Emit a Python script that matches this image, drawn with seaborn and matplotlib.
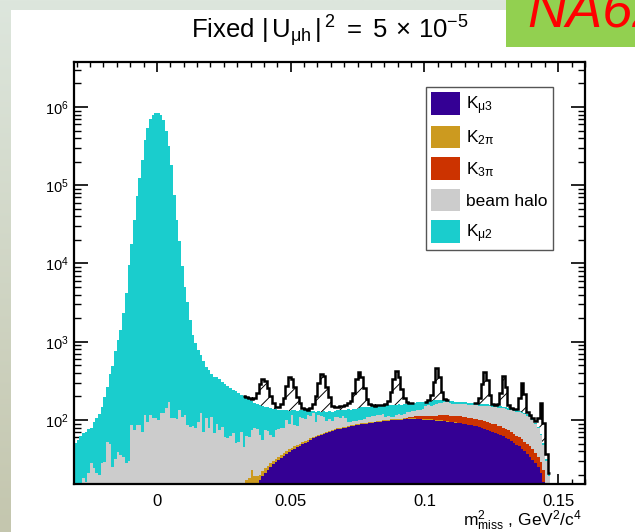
import numpy as np
import pandas as pd
import matplotlib
matplotlib.use("Agg")
import matplotlib.pyplot as plt
import seaborn as sns
from matplotlib.patches import Patch, Rectangle
from matplotlib.ticker import MultipleLocator, LogLocator, NullFormatter

# ---------------- data ----------------
bin_lo, bin_hi, n_bins = -0.031, 0.160, 191          # m2_miss bins, width 0.001 GeV^2/c^4

kmu2 = [41, 44, 48, 50, 54, 55, 52, 71, 85, 100, 120, 170, 210, 340, 470, 720,
        1010, 1360, 2270, 4170, 9470, 17900, 35900, 71900, 124900, 209900, 379900,
        540000, 700000, 800000, 850000, 850000, 800000, 680000, 500000, 320000, 180000,
        75000, 36000, 19000, 9200, 4900, 3110, 1820, 1120, 870, 700, 560, 490, 375, 350,
        280, 287, 270,
        255, 224, 230, 211, 195, 177, 181, 170, 139, 155, 130, 124, 101, 86, 84, 91, 95,
        73, 73, 78, 80, 64, 60, 55, 54, 35, 42, 20, 48, 47, 25, 27, 30, 14, 18, 8, 33, 14,
        15, 23, 28, 27, 32, 20, 24, 30,
        22, 27, 42, 42, 43, 43, 43, 46, 46, 36, 40, 38, 38, 35, 39, 34, 47, 42, 46, 45, 41,
        40, 41, 41, 35, 36, 36, 34, 32, 36, 34, 21, 20, 23, 21, 18, 14, 17, 10, 8, 9, 11,
        12, 9, 10,
        11, 8, 9, 9, 8, 8, 8, 8, 8, 7, 7, 7, 7, 7, 7, 6, 6, 6, 6, 5, 5, 5, 4, 4, 4, 4, 3,
        3, 3, 3, 3, 2, 2, 0, 0, 0, 0, 0, 0, 0, 0, 0, 0, 0, 0, 0]

beam_halo = [10, 12, 14, 18, 16, 21, 28, 24, 21, 20, 28, 29, 52, 50, 25, 32,
             39, 36, 34, 28, 30, 86, 74, 86, 86, 71, 116, 95, 116, 106, 106, 100, 123, 123,
             142, 170, 106, 106, 104, 134, 110, 115, 86, 81, 84, 80, 95, 123, 71, 106, 79,
             110, 68, 88,
             75, 81, 60, 59, 62, 68, 51, 52, 71, 45, 46, 43, 51, 61, 58, 44, 33, 50, 46, 36,
             30, 42, 42, 43, 41, 60, 48, 72, 40, 36, 60, 54, 50, 60, 55, 62, 32, 51, 45, 39,
             27, 29, 21, 33, 30, 26,
             31, 23, 11, 8, 10, 8, 10, 9, 10, 18, 15, 18, 16, 20, 17, 20, 9, 12, 9, 8, 14, 15,
             12, 13, 20, 16, 19, 21, 25, 22, 26, 37, 42, 39, 43, 48, 50, 48, 53, 55, 52, 48,
             47, 49, 50,
             48, 51, 50, 50, 53, 51, 52, 53, 53, 56, 57, 57, 58, 59, 60, 61, 63, 62, 63, 64,
             65, 64, 65, 65, 64, 62, 58, 50, 44, 35, 25, 16, 19,
             0, 0, 0, 0, 0, 0, 0, 0, 0, 0, 0, 0, 0]

kmu3_first_bin = 66
kmu3 = [4, 9, 14, 17, 19, 21, 23, 25, 27, 29, 31, 33, 35, 37, 39, 41, 43, 45, 47, 49, 51,
        53, 56, 58, 60, 62, 64, 66, 68, 70, 72, 74, 76, 77,
        78, 80, 81, 83, 84, 86, 87, 88, 89, 90, 91, 92, 93, 94, 95, 96, 97, 98, 99, 99, 100,
        101, 101, 102, 102, 103, 103, 103, 102, 102, 101, 101, 100, 100, 99, 98, 98, 97, 96,
        95, 94, 93, 92, 91, 91,
        90, 89, 87, 86, 84, 83, 81, 79, 77, 75, 73, 71, 69, 67, 65, 62, 59, 57, 54, 51, 48,
        46, 43, 40, 37, 34, 31, 28, 25, 21, 16]

k2pi_first_bin = 64
k2pi = [17, 18, 19, 10, 5, 3, 3, 3, 3, 3, 3, 3, 3, 3, 3, 3, 3, 3, 3, 3, 3, 3, 3, 3, 3, 3,
        3, 3, 3, 3, 3, 3, 3, 3, 2.5, 2.5,
        2.5, 2.5, 2.5, 2.5, 2.5, 2.5, 2.5, 2.5, 2.5, 2.5, 2.5, 2.5, 2.5, 2.5, 2.5, 2.5, 2.5,
        2.5, 2.5, 2.5, 2.5, 2.5, 2.5, 2.5, 2, 2, 2, 2, 2, 2, 2, 2, 2, 2,
        1.5, 1.5, 1.5, 1.5, 1.5, 1.5, 1.5, 1.5, 1.5, 1.5, 1]

k3pi_first_bin = 123
k3pi = [2, 3, 4, 5, 6, 7, 8, 9, 10, 11, 12, 13, 14, 15, 16, 17, 18, 18, 19, 19, 19, 20,
        20, 20, 20, 20, 20, 20, 20, 20, 20, 20, 19, 19, 19, 18, 18, 18, 17, 17, 16, 16, 15,
        15, 14, 13, 13, 12, 11, 10, 9, 8, 7, 14]

signal_first_bin = 64   # heavy neutral lepton peaks, |U_mu h|^2 = 5e-5
signal = [3, 5, 12, 25, 60, 130, 185, 170, 110, 60, 25, 10, 10, 25, 60, 140, 220, 200, 130,
          65, 28, 10, 4, 5, 12, 30, 75, 170, 260, 230, 140, 65, 25, 18, 16, 16, 18, 22, 28,
          40, 85, 190, 265, 210, 110, 40, 12, 4, 3, 2, 2, 3, 5, 20, 70, 180, 265, 200, 90,
          28, 8, 2, 0, 0, 0, 0, 0, 0, 5, 30, 130, 280, 180, 50, 8, 0, 0, 0, 0, 0, 0,
          0, 0, 0, 0, 0, 5, 30, 130, 250, 170, 50, 8, 3, 8, 70, 214, 120, 15, 3, 3, 6, 60,
          172, 90, 10, 3, 3, 5, 25, 99, 40, 5]

legend_labels = [r"$K_{\mu3}$", r"$K_{2\pi}$", r"$K_{3\pi}$", "beam halo", r"$K_{\mu2}$"]
component_names = ["Kmu3", "K2pi", "K3pi", "beam halo", "Kmu2"]
colors = ["#340094", "#cc9a1f", "#cc3300", "#cccccc", "#1acdcd"]
xtick_values = [0, 0.05, 0.1, 0.15]
xtick_labels = ["0", "0.05", "0.1", "0.15"]
title = r"Fixed $|\,U_{\mu h}\,|^{\,2}\ =\ 5\,\times\,10^{-5}$"
xlabel = r"$m^{2}_{miss}$ , GeV$^{2}$/c$^{4}$"

# ---------------- build histograms ----------------
edges = np.linspace(bin_lo, bin_hi, n_bins + 1)
centers = 0.5 * (edges[:-1] + edges[1:])


def full(first, vals):
    arr = np.zeros(n_bins)
    arr[first:first + len(vals)] = vals
    return arr


counts = {
    "Kmu3": full(kmu3_first_bin, kmu3),
    "K2pi": full(k2pi_first_bin, k2pi),
    "K3pi": full(k3pi_first_bin, k3pi),
    "beam halo": np.asarray(beam_halo, float),
    "Kmu2": np.asarray(kmu2, float),
}
sig = full(signal_first_bin, signal)

df = pd.concat([pd.DataFrame({"m2": centers, "count": counts[n], "component": n})
                for n in component_names], ignore_index=True)

# ---------------- style ----------------
sns.set_style("ticks")
plt.rcParams["font.family"] = ["Liberation Sans", "DejaVu Sans"]
plt.rcParams["mathtext.fontset"] = "custom"
plt.rcParams["mathtext.rm"] = "Liberation Sans"
plt.rcParams["mathtext.it"] = "Liberation Sans:italic"
plt.rcParams["mathtext.bf"] = "Liberation Sans:bold"
plt.rcParams["mathtext.default"] = "regular"
plt.rcParams["hatch.linewidth"] = 0.7
plt.rcParams["text.color"] = "black"
plt.rcParams["xtick.color"] = "black"
plt.rcParams["ytick.color"] = "black"

W, H = 635, 532
fig = plt.figure(figsize=(W / 100, H / 100), dpi=100)

# slide background
bg = fig.add_axes([0, 0, 1, 1], zorder=-10)
bg.set_xlim(0, W)
bg.set_ylim(H, 0)
bg.axis("off")
c_top = np.array([0xdd, 0xe6, 0xdd]) / 255
c_bot = np.array([0xc4, 0xc6, 0xae]) / 255
t = np.linspace(0, 1, 256)[:, None, None]
bg.imshow(c_top + t * (c_bot - c_top), extent=[0, W, H, 0], aspect="auto")
bg.add_patch(Rectangle((11, 10), W - 11, H - 10, facecolor="white", edgecolor="none"))
bg.add_patch(Rectangle((506, 0), W - 506, 47, facecolor="#92d050", edgecolor="none"))
bg.text(527, 27, "NA62", color="#ff0000", fontsize=39, style="italic",
        ha="left", va="baseline")

ax = fig.add_axes([74 / W, (H - 484) / H, 511 / W, 422 / H])
ax.set_facecolor("white")

palette = dict(zip(component_names, colors))
stack_order = component_names[::-1]          # first level ends on top of the stack
sns.histplot(data=df, x="m2", weights="count", hue="component", hue_order=stack_order,
             bins=list(edges), multiple="stack", element="step", fill=True, palette=palette,
             alpha=1, linewidth=0, edgecolor="none", antialiased=False, legend=False, ax=ax)

ax.set_yscale("log")

bg_total = sum(counts[n] for n in component_names)
sig_top = bg_total + sig
idx = np.flatnonzero(sig > 0)
runs = np.split(idx, np.flatnonzero(np.diff(idx) > 1) + 1)
for run in runs:
    a, b = run[0], run[-1]
    xs = edges[a:b + 2]
    lo = np.append(bg_total[a:b + 1], bg_total[b])
    hi = np.append(sig_top[a:b + 1], sig_top[b])
    ax.fill_between(xs, lo, hi, step="post", facecolor="none", edgecolor="black",
                    hatch="//", linewidth=0, zorder=5)
    a0, b0 = max(a - 1, 0), min(b + 1, n_bins - 1)
    ax.stairs(sig_top[a0:b0 + 1], edges[a0:b0 + 2], baseline=None, color="black",
              linewidth=1.8, zorder=6)

ax.set_xlim(-0.031, 0.160)
ax.set_ylim(15.2, 3.76e6)
ax.set_xlabel("")
ax.set_ylabel("")
ax.set_xticks(xtick_values, labels=xtick_labels)
ax.xaxis.set_minor_locator(MultipleLocator(0.005))
ax.yaxis.set_major_locator(LogLocator(base=10, numticks=12))
ax.yaxis.set_minor_locator(LogLocator(base=10, subs=np.arange(2, 10), numticks=12))
ax.yaxis.set_minor_formatter(NullFormatter())
ax.tick_params(axis="both", which="both", direction="in", top=True, right=True)
ax.tick_params(axis="x", which="major", length=7.2, width=1.2, labelsize=12, pad=7)
ax.tick_params(axis="x", which="minor", length=3.6, width=1.0)
ax.tick_params(axis="y", which="major", length=10, width=1.2, labelsize=10.5, pad=4)
ax.tick_params(axis="y", which="minor", length=5, width=1.0)
for s in ax.spines.values():
    s.set_linewidth(1.6)
    s.set_color("black")
    s.set_zorder(10)

handles = [Patch(facecolor=c, edgecolor="none", label=l) for c, l in zip(colors, legend_labels)]
leg = ax.legend(handles=handles, loc="upper left",
                bbox_to_anchor=((426 - 74) / 511, (484 - 87) / 422),
                fontsize=12.5, handlelength=1.67, handleheight=1.61, labelspacing=0.52,
                borderpad=0.3, handletextpad=0.35, borderaxespad=0, fancybox=False,
                framealpha=1, edgecolor="#555555")
leg.get_frame().set_linewidth(1.0)
leg.set_zorder(20)

fig.text(330 / W, 1 - 38 / H, title, ha="center", va="baseline", fontsize=18.5)
fig.text(582 / W, 1 - 526 / H, xlabel, ha="right", va="baseline", fontsize=12.5)

fig.savefig("out.png", dpi=100)
